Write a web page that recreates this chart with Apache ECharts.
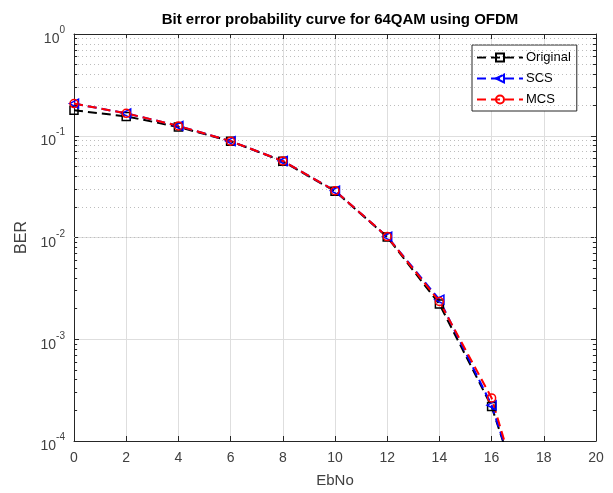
<!DOCTYPE html>
<html>
<head>
<meta charset="utf-8">
<script src="https://cdn.jsdelivr.net/npm/echarts@6/dist/echarts.min.js"></script>
<style>
html,body{margin:0;padding:0;background:#fff;}
#chart{width:613px;height:493px;}
</style>
</head>
<body>
<div id="chart"></div>
<script>
const ebno = [0, 2, 4, 6, 8, 10, 12, 14, 16, 18];
const berOriginal = [0.178, 0.155, 0.122, 0.0885, 0.0560, 0.0285, 0.0101, 0.00222, 0.000218, 0.000006];
const berSCS      = [0.207, 0.166, 0.125, 0.0885, 0.0565, 0.0288, 0.0102, 0.00245, 0.000225, 0.000006];
const berMCS      = [0.207, 0.166, 0.125, 0.0885, 0.0565, 0.0288, 0.0102, 0.00235, 0.000265, 0.000005];
const seriesNames = ['Original', 'SCS', 'MCS'];
const xTicks = [0, 2, 4, 6, 8, 10, 12, 14, 16, 18, 20];
const yDecades = [-4, -3, -2, -1, 0];

const pairs = arr => ebno.map((x, i) => [x, arr[i]]);

// minor log positions (2..9 within each decade)
const minorVals = [];
for (let d = -4; d < 0; d++) {
  for (let k = 2; k <= 9; k++) minorVals.push(k * Math.pow(10, d));
}
const minorGrid = minorVals.map(v => ({ yAxis: v }));
const minorTicks = [];
minorVals.forEach(v => {
  minorTicks.push([{ coord: [0, v] }, { coord: [0.12, v] }]);
  minorTicks.push([{ coord: [19.88, v] }, { coord: [20, v] }]);
});

const chart = echarts.init(document.getElementById('chart'), null, { renderer: 'canvas' });
const axisColor = '#262626';
const labelColor = '#404040';
const font = 'Liberation Sans, Arial, Helvetica, sans-serif';

const lineSeries = (name, data, color, symbol, rotate, size) => ({
  name: name,
  type: 'line',
  data: pairs(data),
  symbol: symbol,
  symbolSize: size,
  symbolRotate: rotate || 0,
  showAllSymbol: true,
  clip: true,
  z: 5,
  lineStyle: { color: color, width: 2, type: [9, 5] },
  itemStyle: { color: 'rgba(0,0,0,0)', borderColor: color, borderWidth: 1.5 },
  emphasis: { disabled: true }
});

chart.setOption({
  animation: false,
  backgroundColor: '#fff',
  textStyle: { fontFamily: font },
  title: {
    text: 'Bit error probability curve for 64QAM using OFDM',
    left: 335, textAlign: 'center', top: 7,
    textStyle: { fontSize: 15, fontWeight: 'bold', color: '#000', fontFamily: font }
  },
  grid: { left: 74, right: 17, top: 34, bottom: 50, containLabel: false },
  legend: {
    data: seriesNames,
    orient: 'vertical',
    left: 472, top: 45,
    padding: [6, 6, 5, 4],
    itemWidth: 46, itemHeight: 10, itemGap: 8,
    backgroundColor: '#fff',
    borderColor: axisColor, borderWidth: 1,
    textStyle: { fontSize: 13, color: '#000', fontFamily: font, padding: [0, 0, 0, -2] }
  },
  xAxis: [{
    type: 'value', min: 0, max: 20, interval: 2,
    name: 'EbNo', nameLocation: 'middle', nameGap: 32,
    nameTextStyle: { fontSize: 15, color: labelColor, fontFamily: font },
    axisLine: { show: true, onZero: false, lineStyle: { color: axisColor, width: 1 } },
    axisTick: { show: true, inside: true, length: 5, lineStyle: { color: axisColor } },
    axisLabel: { fontSize: 14, color: labelColor, margin: 10, fontFamily: font },
    splitLine: { show: true, lineStyle: { color: '#dedede', width: 1 } }
  }, {
    type: 'value', min: 0, max: 20, interval: 2, position: 'top',
    axisLine: { show: true, onZero: false, lineStyle: { color: axisColor, width: 1 } },
    axisTick: { show: true, inside: true, length: 5, lineStyle: { color: axisColor } },
    axisLabel: { show: false },
    splitLine: { show: false }
  }],
  yAxis: [{
    type: 'log', logBase: 10, min: 1e-4, max: 1,
    name: 'BER', nameLocation: 'middle', nameGap: 44, nameRotate: 90,
    nameTextStyle: { fontSize: 16, color: labelColor, fontFamily: font },
    axisLine: { show: true, onZero: false, lineStyle: { color: axisColor, width: 1 } },
    axisTick: { show: true, inside: true, length: 5, lineStyle: { color: axisColor } },
    axisLabel: {
      margin: 9, color: labelColor,
      formatter: v => '{b|10}{s|' + Math.round(Math.log10(v)) + '}',
      rich: {
        b: { fontSize: 14, color: labelColor, fontFamily: font, lineHeight: 17, verticalAlign: 'bottom', padding: [0, 0, -4, 0] },
        s: { fontSize: 10, color: labelColor, fontFamily: font, lineHeight: 17, verticalAlign: 'top' }
      }
    },
    splitLine: { show: true, lineStyle: { color: '#dedede', width: 1 } }
  }, {
    type: 'log', logBase: 10, min: 1e-4, max: 1, position: 'right',
    axisLine: { show: true, onZero: false, lineStyle: { color: axisColor, width: 1 } },
    axisTick: { show: true, inside: true, length: 5, lineStyle: { color: axisColor } },
    axisLabel: { show: false },
    splitLine: { show: false }
  }],
  series: [
    {
      name: 'minor', type: 'line', data: [], silent: true, z: 1,
      markLine: {
        silent: true, symbol: 'none', animation: false,
        label: { show: false },
        lineStyle: { color: '#bdbdbd', width: 1, type: [1, 3] },
        data: minorGrid
      }
    },
    {
      name: 'minorTicks', type: 'line', data: [], silent: true, z: 2,
      markLine: {
        silent: true, symbol: 'none', animation: false,
        label: { show: false },
        lineStyle: { color: axisColor, width: 1, type: 'solid' },
        data: minorTicks
      }
    },
    lineSeries('Original', berOriginal, '#000000', 'rect', 0, 8),
    lineSeries('SCS', berSCS, '#0000ff', 'triangle', 90, 9),
    lineSeries('MCS', berMCS, '#ff0000', 'circle', 0, 8)
  ]
});
</script>
</body>
</html>
